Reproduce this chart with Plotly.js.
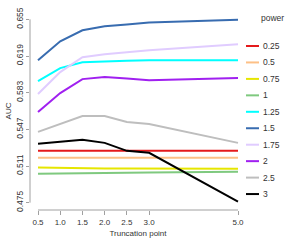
<!DOCTYPE html>
<html>
<head>
<meta charset="utf-8">
<script src="https://cdn.plot.ly/plotly-3.0.1.min.js"></script>
<style>html,body{margin:0;padding:0;background:#fff;}#chart{width:300px;height:240px;}</style>
</head>
<body>
<div id="chart"></div>
<script>
var truncation = [0.5, 1.0, 1.5, 2.0, 2.5, 3.0, 5.0];
var xTickLabels = ["0.5", "1.0", "1.5", "2.0", "2.5", "3.0", "5.0"];
var yTickVals = [0.475, 0.511, 0.547, 0.583, 0.619, 0.655];
var powers = ["0.25", "0.5", "0.75", "1", "1.25", "1.5", "1.75", "2", "2.5", "3"];
var colors = ["#e41a1c", "#fdc086", "#e6e600", "#7fc97f", "#00ffff", "#386cb0", "#e0ccff", "#a020f0", "#bebebe", "#000000"];

var auc_0_25 = [0.526, 0.526, 0.526, 0.526, 0.526, 0.526, 0.526];
var auc_0_5  = [0.519, 0.519, 0.519, 0.519, 0.519, 0.519, 0.519];
var auc_0_75 = [0.5095, 0.509, 0.5088, 0.5086, 0.5085, 0.5085, 0.5083];
var auc_1    = [0.5034, 0.5038, 0.504, 0.5042, 0.5044, 0.5046, 0.5053];
var auc_1_25 = [0.5944, 0.6071, 0.6129, 0.6139, 0.6144, 0.6149, 0.6149];
var auc_1_5  = [0.6149, 0.6335, 0.6442, 0.6482, 0.6500, 0.6518, 0.6547];
var auc_1_75 = [0.5817, 0.6032, 0.6178, 0.6208, 0.6228, 0.6247, 0.6305];
var auc_2    = [0.5640, 0.5826, 0.5963, 0.5983, 0.5968, 0.5953, 0.5973];
var auc_2_5  = [0.5445, 0.5523, 0.5601, 0.5601, 0.5543, 0.5523, 0.5337];
var auc_3    = [0.5328, 0.5347, 0.5367, 0.5337, 0.5259, 0.5240, 0.4760];

var series = [auc_0_25, auc_0_5, auc_0_75, auc_1, auc_1_25, auc_1_5, auc_1_75, auc_2, auc_2_5, auc_3];

var W = 300, H = 240, mL = 30, mR = 54, mT = 12, mB = 30;
var pw = W - mL - mR, ph = H - mT - mB;
function px2x(p) { return (p - mL) / pw; }
function py2y(p) { return (H - mB - p) / ph; }

var traces = series.map(function (vals, i) {
  return {
    x: truncation, y: vals, type: "scatter", mode: "lines", name: powers[i],
    line: { color: colors[i], width: 2 }, showlegend: false, hoverinfo: "skip"
  };
});

var axisColor = "#a0a0a0";
var textColor = "#333333";
var fontFam = "Liberation Sans, Arial, sans-serif";

var shapes = [
  { type: "line", xref: "x", yref: "paper", x0: truncation[0], x1: truncation[truncation.length - 1], y0: 0, y1: 0, line: { color: axisColor, width: 1 } },
  { type: "line", xref: "paper", yref: "y", x0: 0, x1: 0, y0: yTickVals[0], y1: yTickVals[yTickVals.length - 1], line: { color: axisColor, width: 1 } }
];
var annotations = [
  { xref: "paper", yref: "paper", x: px2x(272), y: py2y(18), text: "power", showarrow: false, xanchor: "center", yanchor: "middle", font: { family: fontFam, size: 8.5, color: textColor } }
];
powers.forEach(function (p, i) {
  var yy = 46 + 16.45 * i;
  shapes.push({ type: "line", xref: "paper", yref: "paper", x0: px2x(246), x1: px2x(259), y0: py2y(yy), y1: py2y(yy), line: { color: colors[i], width: 2 } });
  annotations.push({ xref: "paper", yref: "paper", x: px2x(261), y: py2y(yy), text: p, showarrow: false, xanchor: "left", yanchor: "middle", font: { family: fontFam, size: 8.5, color: textColor } });
});

var layout = {
  width: W, height: H,
  margin: { l: mL, r: mR, t: mT, b: mB, pad: 0 },
  paper_bgcolor: "#ffffff", plot_bgcolor: "#ffffff",
  font: { family: fontFam, size: 8, color: textColor },
  xaxis: {
    range: [0.32, 5.18], tickmode: "array", tickvals: truncation, ticktext: xTickLabels,
    ticks: "outside", ticklen: 4, tickcolor: axisColor, showgrid: false, zeroline: false, showline: false,
    tickfont: { size: 8, color: textColor },
    title: { text: "Truncation point", font: { size: 8, color: textColor }, standoff: 4 }
  },
  yaxis: {
    range: [0.4678, 0.6622], tickmode: "array", tickvals: yTickVals, ticktext: yTickVals.map(function (v) { return v.toFixed(3); }),
    ticks: "outside", ticklen: 3, tickcolor: axisColor, showgrid: false, zeroline: false, showline: false,
    tickangle: -90, tickfont: { size: 8.5, color: textColor },
    title: { text: "AUC", font: { size: 8, color: textColor }, standoff: 1 }
  },
  shapes: shapes,
  annotations: annotations,
  showlegend: false
};

Plotly.newPlot("chart", traces, layout, { staticPlot: true, displayModeBar: false });
</script>
</body>
</html>
